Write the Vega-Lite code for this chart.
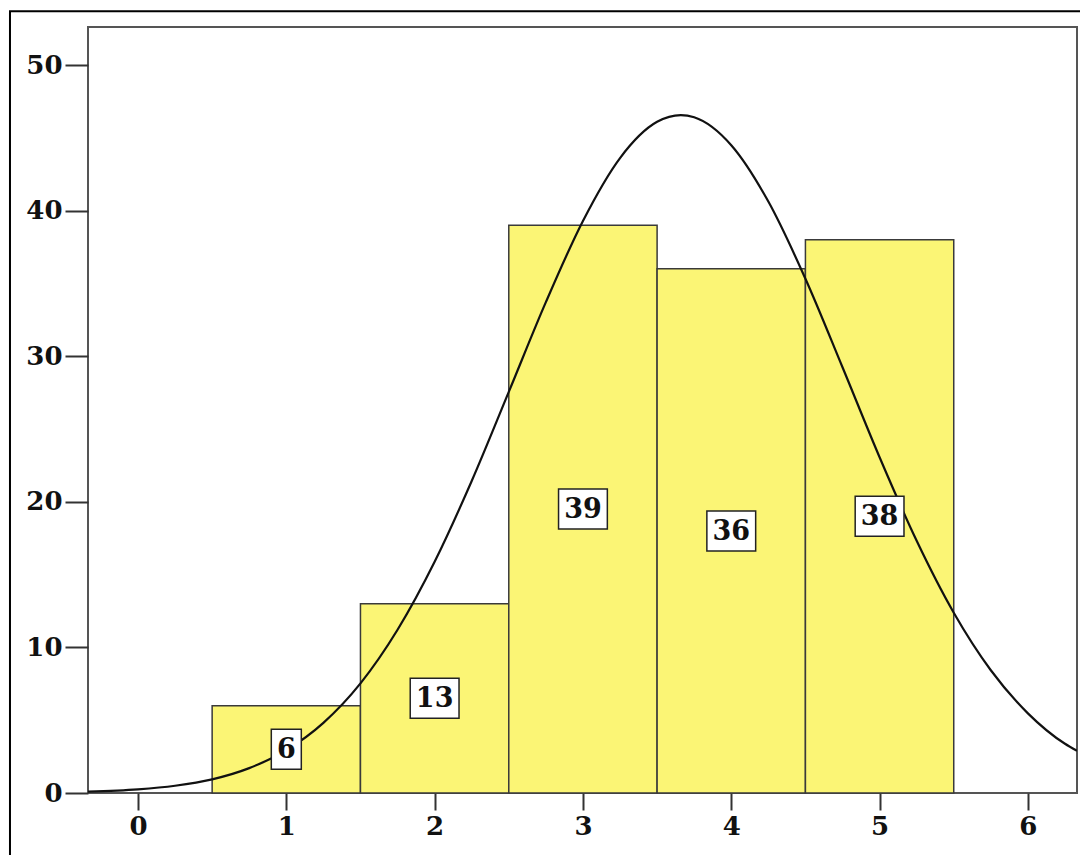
{
  "$schema": "https://vega.github.io/schema/vega-lite/v6.json",
  "autosize": {"type": "none"},
  "padding": {"left": 88, "top": 27, "right": 3, "bottom": 62},
  "width": 989,
  "height": 766,
  "background": "white",
  "config": {
    "view": {"stroke": "#555555", "strokeWidth": 2},
    "axis": {"grid": false, "domain": false, "labelFont": "DejaVu Serif", "labelFontWeight": "bold", "labelFontSize": 26, "labelColor": "#111111", "tickColor": "#333333", "tickWidth": 2}
  },
  "datasets": {
    "bars": [
      {"value": 1, "bin_start": 0.5, "bin_end": 1.5, "count": 6},
      {"value": 2, "bin_start": 1.5, "bin_end": 2.5, "count": 13},
      {"value": 3, "bin_start": 2.5, "bin_end": 3.5, "count": 39},
      {"value": 4, "bin_start": 3.5, "bin_end": 4.5, "count": 36},
      {"value": 5, "bin_start": 4.5, "bin_end": 5.5, "count": 38}
    ],
    "curve": [
      {"x": -0.337, "y": 0.09},
      {"x": 0, "y": 0.25},
      {"x": 0.25, "y": 0.5},
      {"x": 0.5, "y": 0.94},
      {"x": 0.75, "y": 1.71},
      {"x": 1.0, "y": 2.94},
      {"x": 1.25, "y": 4.82},
      {"x": 1.5, "y": 7.53},
      {"x": 1.75, "y": 11.21},
      {"x": 2.0, "y": 15.88},
      {"x": 2.25, "y": 21.43},
      {"x": 2.5, "y": 27.55},
      {"x": 2.75, "y": 33.71},
      {"x": 3.0, "y": 39.29},
      {"x": 3.25, "y": 43.61},
      {"x": 3.5, "y": 46.1},
      {"x": 3.66, "y": 46.56},
      {"x": 3.75, "y": 46.41},
      {"x": 4.0, "y": 44.49},
      {"x": 4.25, "y": 40.62},
      {"x": 4.5, "y": 35.32},
      {"x": 4.75, "y": 29.24},
      {"x": 5.0, "y": 23.06},
      {"x": 5.25, "y": 17.32},
      {"x": 5.5, "y": 12.38},
      {"x": 5.75, "y": 8.43},
      {"x": 6.0, "y": 5.47},
      {"x": 6.25, "y": 3.38},
      {"x": 6.331, "y": 2.9}
    ]
  },
  "layer": [
    {
      "data": {"name": "bars"},
      "mark": {"type": "rect", "fill": "#FBF575", "stroke": "#3a3a3a", "strokeWidth": 1.5},
      "encoding": {
        "x": {"field": "bin_start", "type": "quantitative", "scale": {"domain": [-0.337, 6.331], "nice": false, "zero": false},
              "axis": {"values": [0, 1, 2, 3, 4, 5, 6], "format": "d", "tickSize": 17, "labelPadding": 3, "title": null}},
        "x2": {"field": "bin_end"},
        "y": {"field": "count", "type": "quantitative", "scale": {"domain": [0, 52.61], "nice": false},
              "axis": {"values": [0, 10, 20, 30, 40, 50], "format": "d", "tickSize": 23, "labelPadding": 3, "title": null}},
        "y2": {"datum": 0}
      }
    },
    {
      "data": {"name": "curve"},
      "mark": {"type": "line", "color": "#111111", "strokeWidth": 2.2, "interpolate": "monotone", "clip": true},
      "encoding": {
        "x": {"field": "x", "type": "quantitative"},
        "y": {"field": "y", "type": "quantitative"}
      }
    },
    {
      "data": {"name": "bars"},
      "transform": [{"calculate": "datum.count / 2", "as": "mid"}],
      "mark": {"type": "point", "filled": true, "fill": "white", "stroke": "#222222", "strokeWidth": 1.5, "opacity": 1, "size": 1600},
      "encoding": {
        "x": {"field": "value", "type": "quantitative"},
        "y": {"field": "mid", "type": "quantitative"},
        "shape": {"condition": {"test": "datum.count < 10", "value": "M-0.75,-1H0.75V1H-0.75Z"}, "value": "M-1.22,-1H1.22V1H-1.22Z"}
      }
    },
    {
      "data": {"name": "bars"},
      "transform": [{"calculate": "datum.count / 2", "as": "mid"}],
      "mark": {"type": "text", "font": "DejaVu Serif", "fontWeight": "bold", "fontSize": 27, "color": "#111111", "baseline": "middle", "align": "center", "dy": 1},
      "encoding": {
        "x": {"field": "value", "type": "quantitative"},
        "y": {"field": "mid", "type": "quantitative"},
        "text": {"field": "count", "type": "quantitative"}
      }
    },
    {
      "data": {"values": [{}]},
      "mark": {"type": "rect", "fill": null, "stroke": "black", "strokeWidth": 2, "clip": false},
      "encoding": {
        "x": {"datum": -0.863},
        "x2": {"datum": 8},
        "y": {"datum": 53.7},
        "y2": {"datum": -10}
      }
    }
  ]
}
